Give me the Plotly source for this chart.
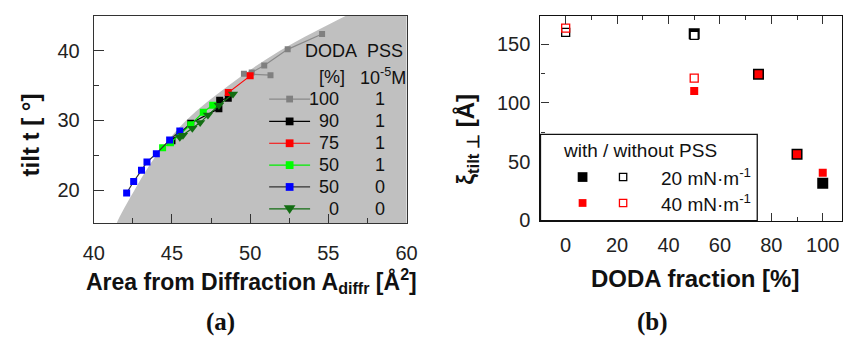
import plotly.graph_objects as go

W, H = 853, 347

# ---------------- Panel (a) data ----------------
bound_tilt = [14, 15.2, 20, 25, 30, 35, 40, 45, 47]
bound_area = [41.3, 41.45, 42.6, 44.0, 45.9, 48.6, 51.9, 56.1, 58.0]

gray_x = [51.3, 49.6, 50.1, 50.9, 52.4, 54.6]
gray_y = [36.5, 36.7, 36.9, 37.9, 40.2, 42.4]
black_x = [45.0, 46.2, 48.0, 48.05, 48.6]
black_y = [27.1, 29.6, 31.7, 32.9, 33.2]
red_x = [48.6, 50.0]
red_y = [34.0, 36.4]
green_x = [44.4, 44.9, 45.5, 46.2, 47.0, 47.6]
green_y = [26.1, 26.8, 28.0, 29.4, 31.2, 32.2]
blue_x = [42.1, 42.55, 43.05, 43.4, 44.0, 44.85, 45.5]
blue_y = [19.6, 21.25, 22.85, 24.05, 25.25, 27.2, 28.5]
tri_x = [45.5, 45.7, 46.3, 46.8, 47.3, 48.0, 48.9]
tri_y = [27.6, 27.9, 28.9, 29.7, 30.8, 32.2, 33.8]

leg_doda = ["100", "90", "75", "50", "50", "0"]
leg_pss = ["1", "1", "1", "1", "0", "0"]

xa_range = [40, 60]
ya_range = [15.25, 45.05]

# ---------------- Panel (b) data ----------------
doda_with = [50, 75, 90, 100]
xi20_with = [158.9, 124.4, 56.2, 31.4]
xi40_with = [110.1, 124.4, 56.2, 40.5]
doda_without = [0, 50]
xi20_without = [160.2, 157.5]
xi40_without = [163.8, 121.1]

xb_range = [-9.8, 107.3]
yb_range = [-0.5, 174.5]

FONT = "Liberation Sans"
SERIF = "Liberation Serif"


def px(x):
    return x / W


def py(y):
    return 1 - y / H


fig = go.Figure()

# shaded region
fig.add_trace(go.Scatter(
    x=bound_area + [xa_range[1] + 5, xa_range[1] + 5],
    y=bound_tilt + [bound_tilt[-1], bound_tilt[0]],
    mode="lines", fill="toself", fillcolor="#c0c0c0",
    line=dict(width=0, shape="spline"), hoverinfo="skip",
    xaxis="x", yaxis="y", showlegend=False))

series_a = [
    (gray_x, gray_y, "#808080", "#8a8a8a", "square", 6),
    (black_x, black_y, "#000000", "#000000", "square", 7),
    (red_x, red_y, "#ff0000", "#ff0000", "square", 7),
    (green_x, green_y, "#00ff00", "#00ee00", "square", 7),
    (blue_x, blue_y, "#0000ff", "#333333", "square", 7),
    (tri_x, tri_y, "#126d12", "#126d12", "triangle-down", 9),
]
for xs, ys, mc, lc, sym, sz in series_a:
    fig.add_trace(go.Scatter(
        x=xs, y=ys, mode="lines+markers",
        marker=dict(symbol=sym, size=sz, color=mc, line=dict(width=0)),
        line=dict(color=lc, width=1.2),
        xaxis="x", yaxis="y", showlegend=False))

# panel (b) traces
fig.add_trace(go.Scatter(
    x=doda_with, y=xi20_with, mode="markers",
    marker=dict(symbol="square", size=11, color="#000000", line=dict(width=0)),
    xaxis="x2", yaxis="y2", showlegend=False))
fig.add_trace(go.Scatter(
    x=doda_without, y=xi20_without, mode="markers",
    marker=dict(symbol="square", size=8, color="#ffffff", line=dict(width=1.3, color="#000000")),
    xaxis="x2", yaxis="y2", showlegend=False))
fig.add_trace(go.Scatter(
    x=doda_with, y=xi40_with, mode="markers",
    marker=dict(symbol="square", size=8, color="#ff0000", line=dict(width=0)),
    xaxis="x2", yaxis="y2", showlegend=False))
fig.add_trace(go.Scatter(
    x=doda_without, y=xi40_without, mode="markers",
    marker=dict(symbol="square", size=8, color="rgba(255,255,255,0)", line=dict(width=1.3, color="#ff0000")),
    xaxis="x2", yaxis="y2", showlegend=False))

axcol = "#333333"
tickfont = dict(family=FONT, size=20, color="#222222")

layout = dict(
    width=W, height=H,
    margin=dict(l=0, r=0, t=0, b=0),
    paper_bgcolor="white", plot_bgcolor="white",
    xaxis=dict(domain=[px(85), px(406)], range=xa_range, anchor="y",
               showgrid=False, zeroline=False, showline=True, linecolor=axcol, linewidth=1.3,
               mirror=True, ticks="inside", ticklen=9, tickwidth=1.2, tickcolor=axcol,
               dtick=5, tick0=40, tickfont=tickfont, ticklabelstandoff=11,
               minor=dict(ticks="inside", ticklen=5, dtick=2.5, tick0=40, tickcolor=axcol, tickwidth=1.2, showgrid=False)),
    yaxis=dict(domain=[py(230), py(16)], range=ya_range, anchor="x",
               showgrid=False, zeroline=False, showline=True, linecolor=axcol, linewidth=1.3,
               mirror=True, ticks="inside", ticklen=10, tickwidth=1.2, tickcolor=axcol,
               dtick=10, tick0=0, tickfont=tickfont, ticklabelstandoff=9,
               minor=dict(ticks="inside", ticklen=5, dtick=5, tick0=0, tickcolor=axcol, tickwidth=1.2, showgrid=False)),
    xaxis2=dict(domain=[px(543.5), px(852.5)], range=xb_range, anchor="y2",
                showgrid=False, zeroline=False, showline=True, linecolor="#111111", linewidth=1.3,
                mirror="ticks", ticks="inside", ticklen=8, tickwidth=1.2, tickcolor=axcol,
                dtick=20, tick0=0, tickfont=tickfont, ticklabelstandoff=6,
                minor=dict(ticks="inside", ticklen=4, dtick=10, tick0=0, tickcolor=axcol, tickwidth=1.2, showgrid=False)),
    yaxis2=dict(domain=[py(227.3), py(16)], range=yb_range, anchor="x2",
                showgrid=False, zeroline=False, showline=True, linecolor="#111111", linewidth=1.3,
                mirror=True, ticks="inside", ticklen=8, tickwidth=1.2, tickcolor=axcol,
                dtick=50, tick0=0, tickfont=tickfont, ticklabelstandoff=5,
                minor=dict(ticks="inside", ticklen=4, dtick=25, tick0=0, tickcolor=axcol, tickwidth=1.2, showgrid=False)),
)
fig.update_layout(**layout)

shapes = []
annots = []


def text(t, x, y, size=18, xanchor="center", bold=False, family=FONT, angle=0):
    annots.append(dict(text=("<b>%s</b>" % t) if bold else t, x=px(x), y=py(y),
                       xref="paper", yref="paper", xanchor=xanchor, yanchor="middle",
                       showarrow=False, textangle=angle,
                       font=dict(family=family, size=size, color="#111111")))


def sq(cx, cy, s, fill, line=None, lw=1.3):
    shapes.append(dict(type="rect", xref="paper", yref="paper",
                       x0=px(cx - s / 2), x1=px(cx + s / 2), y0=py(cy + s / 2), y1=py(cy - s / 2),
                       fillcolor=fill, line=dict(width=lw if line else 0, color=line or fill), layer="above"))


# Axis titles and panel labels
text("Area from Diffraction A<sub>diffr</sub> [Å<sup>2</sup>]", 247, 289, size=23, bold=True)
text("tilt t [ °]", 21, 139, size=24, bold=True, angle=-90)
text("DODA fraction [%]", 702, 287, size=24, bold=True)
text("ξ<sub>tilt ⊥</sub> [Å]", 469, 143, size=24, bold=True, angle=-90)
text("(a)", 215, 332, size=25, bold=True, family=SERIF)
text("(b)", 658, 332, size=25, bold=True, family=SERIF)

# Panel (a) legend
text("DODA", 328, 53)
text("PSS", 384, 53)
text("[%]", 330, 79)
text("10<sup>-5</sup>M", 382, 79)
rows_y = [102, 125, 147.5, 170, 192.5, 215]
for (xs, ys, mc, lc, sym, sz), ry, d, p in zip(series_a, rows_y, leg_doda, leg_pss):
    shapes.append(dict(type="line", xref="paper", yref="paper",
                       x0=px(265), x1=px(307), y0=py(ry), y1=py(ry),
                       line=dict(color=lc, width=1.2), layer="above"))
    if sym == "square":
        sq(286, ry, sz + 1, mc)
    else:
        s = 6
        path = "M %f %f L %f %f L %f %f Z" % (px(286 - s), py(ry - s * 0.6), px(286 + s), py(ry - s * 0.6),
                                              px(286), py(ry + s * 0.9))
        shapes.append(dict(type="path", xref="paper", yref="paper", path=path,
                           fillcolor=mc, line=dict(width=0, color=mc), layer="above"))
    text(d, 339, ry, xanchor="right")
    text(p, 379, ry)

# Panel (b) legend box
shapes.append(dict(type="rect", xref="paper", yref="paper",
                   x0=px(543.5), x1=px(766), y0=py(227.3), y1=py(138.3),
                   fillcolor="white", line=dict(color="#111111", width=1.3), layer="above"))
text("with / without PSS", 565, 155, size=19, xanchor="left")
sq(586.7, 182.3, 10, "#000000")
sq(628.3, 182.3, 7.5, "white", "#000000")
sq(586.7, 209, 8, "#ff0000")
sq(628.3, 209, 7.5, "white", "#ff0000")
text("20 mN·m<sup>-1</sup>", 665, 182.3, size=19, xanchor="left")
text("40 mN·m<sup>-1</sup>", 665, 209, size=19, xanchor="left")

fig.update_layout(shapes=shapes, annotations=annots)
fig.write_html("out.html")
